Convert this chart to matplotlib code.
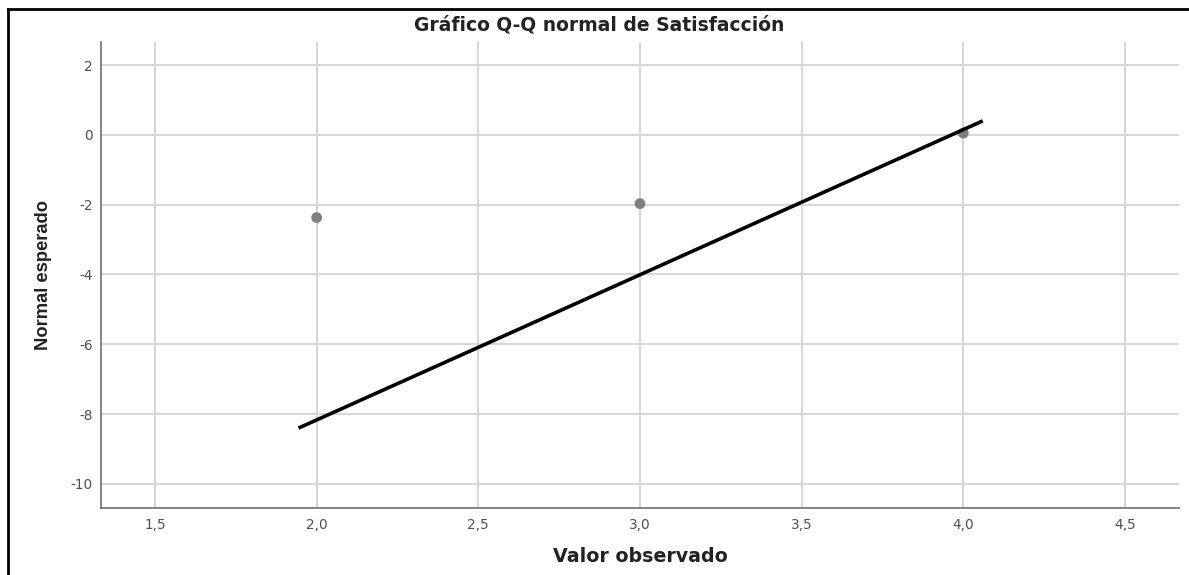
import matplotlib
matplotlib.use('Agg')
import matplotlib.pyplot as plt
from matplotlib.lines import Line2D

plt.rcParams['font.family'] = ['DejaVu Sans']

# observed values vs expected normal
obs = [2.0, 3.0, 4.0]
expected = [-2.37, -1.97, 0.05]

# reference line endpoints
line_x = [1.944, 4.06]
line_y = [-8.4, 0.4]

xticks = [1.5, 2.0, 2.5, 3.0, 3.5, 4.0, 4.5]
xtick_labels = ['1,5', '2,0', '2,5', '3,0', '3,5', '4,0', '4,5']
yticks = [2, 0, -2, -4, -6, -8, -10]
ytick_labels = ['2', '0', '-2', '-4', '-6', '-8', '-10']

W, H = 1189, 575
fig = plt.figure(figsize=(W / 100, H / 100), dpi=100)

# axes box in pixels: left 101, right 1179, top 42, bottom 508
ax = fig.add_axes([101 / W, 1 - 508 / H, (1179 - 101) / W, (508 - 42) / H])

ax.grid(True, color='#d6d6d6', linewidth=1.4)
ax.set_axisbelow(True)

ax.scatter(obs, expected, s=60, color='#7f7f7f', zorder=3, edgecolors='none')
ax.plot(line_x, line_y, color='black', linewidth=2.6, zorder=4,
        solid_capstyle='butt')

ax.set_xlim(1.333, 4.667)
ax.set_ylim(-10.69, 2.66)
ax.set_xticks(xticks)
ax.set_xticklabels(xtick_labels)
ax.set_yticks(yticks)
ax.set_yticklabels(ytick_labels)
ax.tick_params(length=0, labelsize=9.8, labelcolor='#505050')
ax.tick_params(axis='x', pad=7)
ax.tick_params(axis='y', pad=6)

for s in ['top', 'right']:
    ax.spines[s].set_visible(False)
for s in ['left', 'bottom']:
    ax.spines[s].set_color('#6e6e6e')
    ax.spines[s].set_linewidth(1.2)

fig.text(599 / W, 1 - 25 / H, 'Gráfico Q-Q normal de Satisfacción',
         ha='center', va='center', fontsize=13.5, fontweight='bold',
         color='#222222')
fig.text(640 / W, 1 - 557 / H, 'Valor observado', ha='center', va='center',
         fontsize=13.7, fontweight='bold', color='#222222')
fig.text(44 / W, 1 - 275 / H, 'Normal esperado', ha='center', va='center',
         rotation=90, fontsize=13.2, fontweight='bold', color='#222222',
         family=['Liberation Sans', 'DejaVu Sans'])

# outer frame (left and top edges only, image is cropped)
fig.add_artist(Line2D([8 / W, 8 / W], [0, 1 - 9 / H], color='black',
                      linewidth=2, transform=fig.transFigure))
fig.add_artist(Line2D([8 / W, 1], [1 - 9 / H, 1 - 9 / H], color='black',
                      linewidth=2, transform=fig.transFigure))

fig.savefig('out.png', dpi=100)
